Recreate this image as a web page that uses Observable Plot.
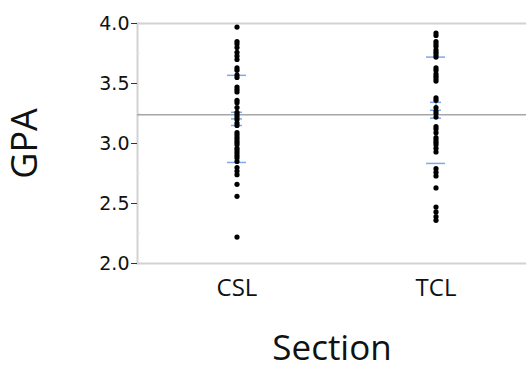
<!DOCTYPE html>
<html>
<head>
<meta charset="utf-8">
<script src="https://cdn.jsdelivr.net/npm/d3@7"></script>
<script src="https://cdn.jsdelivr.net/npm/@observablehq/plot@0.6"></script>
<style>
  html, body { margin: 0; padding: 0; background: #fff; overflow: hidden; }
  #chart { width: 526px; height: 369px; }
</style>
</head>
<body>
<div id="chart"></div>
<script>
const sections = ["CSL", "TCL"];
const gpaTicks = [2.0, 2.5, 3.0, 3.5, 4.0];
const minorTicks = [2.25, 2.75, 3.25, 3.75];
const cslGPA = [3.97, 3.85, 3.83, 3.80, 3.76, 3.73, 3.70, 3.63, 3.61, 3.57, 3.55,
  3.47, 3.45, 3.43, 3.36, 3.34, 3.30, 3.26, 3.24, 3.22, 3.20, 3.17, 3.15,
  3.09, 3.07, 3.05, 3.03, 3.01, 2.99, 2.96, 2.94, 2.92, 2.90, 2.88, 2.85,
  2.80, 2.77, 2.74, 2.66, 2.56, 2.22];
const tclGPA = [3.92, 3.90, 3.85, 3.83, 3.81, 3.78, 3.76, 3.74, 3.72, 3.63, 3.61,
  3.58, 3.56, 3.54, 3.52, 3.38, 3.36, 3.30, 3.27, 3.25, 3.22, 3.14, 3.12,
  3.09, 3.05, 3.03, 3.01, 2.99, 2.96, 2.93, 2.79, 2.76, 2.73, 2.63, 2.47,
  2.43, 2.39, 2.36];
const grandMean = 3.24;
const groupMean = [3.205, 3.277];
const groupSE = [0.055, 0.066];
const groupSD = [0.363, 0.443];

const rows = [
  ...cslGPA.map(g => ({section: sections[0], gpa: g})),
  ...tclGPA.map(g => ({section: sections[1], gpa: g}))
];
const stats = sections.map((s, i) => ({section: s, mean: groupMean[i], se: groupSE[i], sd: groupSD[i]}));

const blue = "#7ea8f2";
const chart = Plot.plot({
  width: 526,
  height: 369,
  marginLeft: 137,
  marginRight: 0,
  marginTop: 23,
  marginBottom: 106,
  style: {background: "#fff", color: "#111", overflow: "visible"},
  x: {domain: sections, range: [137, 535], padding: 0},
  y: {domain: [2, 4]},
  marks: [
    Plot.frame({anchor: "left", stroke: "#d2d2d2", strokeWidth: 2}),
    Plot.ruleY([4, 2], {stroke: "#d2d2d2", strokeWidth: 2}),
    Plot.axisY({ticks: minorTicks, tickSize: -3, tickFormat: () => "", stroke: "#e4e4e4", label: null}),
    Plot.ruleY([grandMean], {stroke: "#a6a6a6", strokeWidth: 1.5}),
    Plot.ruleX(stats, {x: "section", y1: d => d.mean - d.se, y2: d => d.mean + d.se, stroke: blue, strokeWidth: 1.5}),
    Plot.tickY(stats, {x: "section", y: d => d.mean + d.sd, stroke: blue, strokeWidth: 1.5, insetLeft: 90, insetRight: 90}),
    Plot.tickY(stats, {x: "section", y: d => d.mean - d.sd, stroke: blue, strokeWidth: 1.5, insetLeft: 90, insetRight: 90}),
    Plot.tickY(stats, {x: "section", y: "mean", stroke: blue, strokeWidth: 1.5, insetLeft: 94, insetRight: 94}),
    Plot.tickY(stats, {x: "section", y: d => d.mean + d.se, stroke: blue, strokeWidth: 1.5, insetLeft: 94, insetRight: 94}),
    Plot.tickY(stats, {x: "section", y: d => d.mean - d.se, stroke: blue, strokeWidth: 1.5, insetLeft: 94, insetRight: 94}),
    Plot.dot(rows, {x: "section", y: "gpa", r: 2.6, fill: "#000", stroke: null}),
    Plot.axisY({ticks: gpaTicks, tickFormat: d3.format(".1f"), tickSize: 6, tickPadding: 2,
      fontSize: 19, fontFamily: "DejaVu Sans", stroke: "#333", label: null}),
    Plot.axisX({tickSize: 0, tickPadding: 15, fontSize: 24, fontFamily: "Open Sans", label: null}),
    Plot.text(["GPA"], {frameAnchor: "left", dx: -112, rotate: -90, text: d => d, textAnchor: "middle",
      fontSize: 36, fontFamily: "Open Sans", fill: "#111"}),
    Plot.text(["Section"], {frameAnchor: "bottom", dy: 96, text: d => d,
      fontSize: 35, fontFamily: "Open Sans", fill: "#111"})
  ]
});
document.getElementById("chart").appendChild(chart);
</script>
</body>
</html>
